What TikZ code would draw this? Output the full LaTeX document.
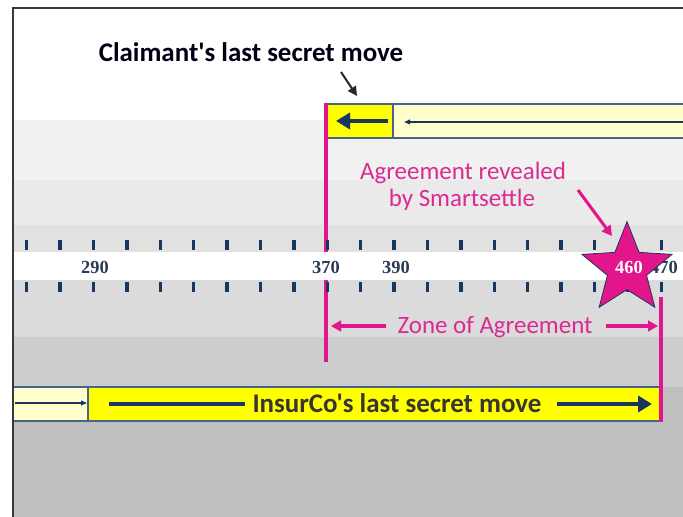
\documentclass[tikz,border=0pt]{standalone}
\usepackage{fontspec}
\setmainfont{Carlito}[Ligatures=TeXOff]
\newfontfamily\numfont{Liberation Serif}
\usetikzlibrary{arrows.meta,shapes.geometric}

\definecolor{navy}{HTML}{17375E}
\definecolor{zonepink}{HTML}{E3158B}
\definecolor{zonetext}{HTML}{DB2A92}
\definecolor{barline}{HTML}{4A6488}
\definecolor{paleyellow}{HTML}{FFFFCC}
\definecolor{brightyellow}{HTML}{FFFF00}
\definecolor{bandA}{HTML}{F1F1F1}
\definecolor{bandB}{HTML}{EAEAEA}
\definecolor{bandC}{HTML}{E1E1E1}
\definecolor{bandD}{HTML}{DBDBDB}
\definecolor{bandE}{HTML}{CDCDCD}
\definecolor{bandF}{HTML}{BFBFBF}
\definecolor{frameline}{HTML}{383838}
\definecolor{numcol}{HTML}{2B3A55}

\tikzset{
  barframe/.style={draw=barline, line width=1.1pt},
  bigarrow/.style={navy, line width=3.6pt, -{Triangle[length=10.5pt, width=12pt]}},
  bigbar/.style={navy, line width=3.6pt},
  thinarrow/.style={navy, line width=1pt, -{Triangle[length=4.5pt, width=3.6pt]}},
  zoneline/.style={zonepink, line width=2.3pt},
  zonearrow/.style={zonepink, line width=2.3pt, -{Triangle[length=7.5pt, width=8pt]}},
  tickmark/.style={navy, line width=2.5pt},
  numlabel/.style={font=\numfont\bfseries\fontsize{13.8}{15}\selectfont, text=numcol, anchor=base, inner sep=0pt},
  boldcap/.style={font=\bfseries\fontsize{20.2}{22}\selectfont, anchor=base, inner sep=0pt},
  pinkcap/.style={font=\fontsize{18.7}{21}\selectfont, text=zonetext, anchor=base, inner sep=0pt},
}

\begin{document}
\begin{tikzpicture}[x=0.75pt, y=-0.75pt]
\useasboundingbox (0,0) rectangle (683,517);
\fill[white] (0,0) rectangle (683,517);

% shaded horizontal bands
\fill[bandA] (14,120) rectangle (683,180);
\fill[bandB] (14,180) rectangle (683,225);
\fill[bandC] (14,225) rectangle (683,252);
\fill[bandD] (14,280) rectangle (683,337);
\fill[bandE] (14,337) rectangle (683,387);
\fill[bandF] (14,387) rectangle (683,517);

% frame
\draw[frameline, line width=1.5pt] (13,517) -- (13,8) -- (683,8);

% top bar: claimant
\fill[paleyellow] (393,104) rectangle (683,138);
\draw[barframe] (683,104) -- (393,104) -- (393,138) -- (683,138);
\filldraw[fill=brightyellow, barframe] (326,104) rectangle (393,138);
\coordinate (ctailA) at (683,122);
\coordinate (cheadA) at (404,122);
\draw[thinarrow] (ctailA) -- (cheadA);
\coordinate (ctailB) at (388,121);
\coordinate (cheadB) at (336,121);
\draw[bigarrow] (ctailB) -- (cheadB);

% left boundary of the zone
\coordinate (zlTop) at (326,103);
\coordinate (zlBot) at (326,362);
\draw[zoneline] (zlTop) -- (zlBot);

% white scale strip with tick marks
\fill[white] (14,252) rectangle (683,280);
\foreach \k in {0,...,19} {
  \draw[tickmark] ({26.7+33.4*\k},240) -- ({26.7+33.4*\k},250);
  \draw[tickmark] ({26.7+33.4*\k},282) -- ({26.7+33.4*\k},292);
}
\node[numlabel] (n290) at (95,273) {290};
\node[numlabel] (n370) at (326,273) {370};
\node[numlabel] (n390) at (396,273) {390};
\node[numlabel] (n470) at (664,273) {470};

% bottom bar: insurer
\fill[paleyellow] (14,387) rectangle (88,421);
\draw[barframe] (14,387) -- (88,387) -- (88,421) -- (14,421);
\filldraw[fill=brightyellow, barframe] (88,387) rectangle (662,421);
\coordinate (itailA) at (15,403);
\coordinate (iheadA) at (87,403);
\draw[thinarrow] (itailA) -- (iheadA);
\coordinate (ibarA) at (109,404);
\coordinate (ibarB) at (245,404);
\draw[bigbar] (ibarA) -- (ibarB);
\coordinate (itailB) at (557,404);
\coordinate (iheadB) at (652,404);
\draw[bigarrow] (itailB) -- (iheadB);
\node[boldcap, text=black!90!yellow] (insur) at (397,412) {InsurCo's last secret move};

% right boundary of the zone
\coordinate (zrTop) at (661,297);
\coordinate (zrBot) at (661,422);
\draw[zoneline] (zrTop) -- (zrBot);

% zone of agreement
\node[pinkcap] (zone) at (495,333) {Zone of Agreement};
\coordinate (zlaTail) at (386,326);
\coordinate (zlaHead) at (331,326);
\coordinate (zraTail) at (606,326);
\coordinate (zraHead) at (658,326);
\draw[zonearrow] (zlaTail) -- (zlaHead);
\draw[zonearrow] (zraTail) -- (zraHead);

% agreement star
\node[star, star points=5, star point ratio=2.3, minimum size=71pt, inner sep=0pt,
      fill=zonepink, draw=navy, line width=0.6pt] (star) at (627,269) {};
\node[numlabel, text=white] (n460) at (629,273) {460};

% captions
\node[boldcap, text=black!92!blue] (claim) at (251,62) {Claimant's last secret move};
\coordinate (cptTail) at (341,72);
\coordinate (cptHead) at (357,96);
\draw[black!85, line width=1.5pt, -{Triangle[length=7pt, width=7pt]}] (cptTail) -- (cptHead);

\node[pinkcap] (agr1) at (463,180) {Agreement revealed};
\node[pinkcap] (agr2) at (462,207) {by Smartsettle};
\coordinate (aptTail) at (578,190);
\coordinate (aptHead) at (612,236);
\draw[zonearrow] (aptTail) -- (aptHead);
\end{tikzpicture}
\end{document}
